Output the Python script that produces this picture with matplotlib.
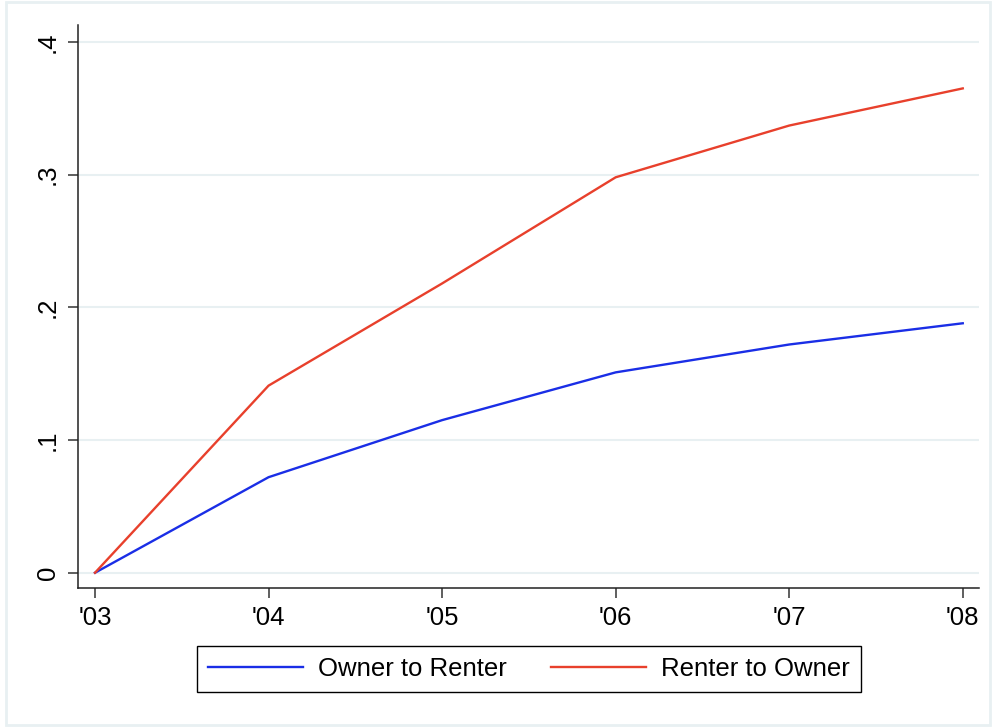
import matplotlib
matplotlib.use("Agg")
import matplotlib.pyplot as plt
from matplotlib.patches import Rectangle

plt.rcParams["font.family"] = ["Liberation Sans", "DejaVu Sans"]

years = [2003, 2004, 2005, 2006, 2007, 2008]
year_labels = ["'03", "'04", "'05", "'06", "'07", "'08"]
owner_to_renter = [0.0, 0.072, 0.115, 0.151, 0.172, 0.188]
renter_to_owner = [0.0, 0.141, 0.218, 0.298, 0.337, 0.365]
y_ticks = [0.0, 0.1, 0.2, 0.3, 0.4]
y_tick_labels = ["0", ".1", ".2", ".3", ".4"]

blue = "#1a2ee6"
red = "#e8402c"
grid_color = "#e8f0f2"

fig = plt.figure(figsize=(9.96, 7.28), dpi=100)
fig.patch.set_facecolor("white")
fig.add_artist(Rectangle((0.006, 0.004), 0.988, 0.993, transform=fig.transFigure,
                         fill=False, edgecolor=grid_color, linewidth=2.0))

ax = fig.add_axes([0.0783, 0.1923, 0.9047, 0.7734])
ax.plot(years, owner_to_renter, color=blue, lw=1.7, label="Owner to Renter")
ax.plot(years, renter_to_owner, color=red, lw=1.7, label="Renter to Owner")

ax.set_xlim(2002.902, 2008.094)
ax.set_ylim(-0.0115, 0.4128)
ax.set_xticks(years)
ax.set_xticklabels(year_labels)
ax.set_yticks(y_ticks)
ax.set_yticklabels(y_tick_labels, rotation=90, va="center")

ax.grid(axis="y", color=grid_color, lw=1.5)
ax.set_axisbelow(True)
for s in ["top", "right"]:
    ax.spines[s].set_visible(False)
for s in ["left", "bottom"]:
    ax.spines[s].set_color("#222222")
    ax.spines[s].set_linewidth(1.1)
ax.tick_params(axis="both", length=7, width=1.1, color="#333333",
               labelsize=18.5, pad=6)

fig.legend(loc="center", bbox_to_anchor=(529 / 996, 1 - 669 / 728), ncol=2,
           fontsize=18.5, frameon=True, fancybox=False, edgecolor="black",
           framealpha=1, handlelength=3.7, handletextpad=0.6,
           columnspacing=1.7, borderpad=0.42).get_frame().set_linewidth(1.0)

fig.savefig("out.png", dpi=100)
